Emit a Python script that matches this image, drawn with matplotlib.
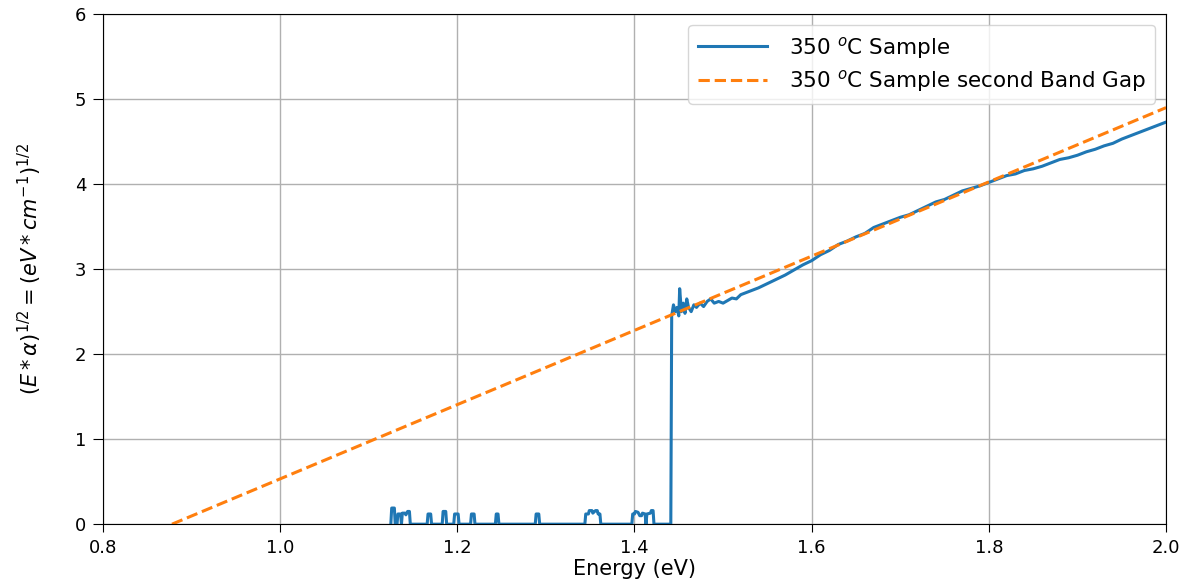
import numpy as np
import matplotlib
matplotlib.use("Agg")
from matplotlib import pyplot as plt

energy_low = [1.125, 1.126, 1.129, 1.130, 1.132, 1.133, 1.136, 1.137, 1.138, 1.141, 1.142, 1.144, 1.146, 1.147,
              1.166, 1.167, 1.170, 1.171, 1.183, 1.184, 1.187, 1.188, 1.196, 1.197, 1.201, 1.202,
              1.215, 1.216, 1.219, 1.220, 1.243, 1.244, 1.246, 1.247, 1.288, 1.289, 1.292, 1.293,
              1.344, 1.345, 1.348, 1.349, 1.352, 1.353, 1.356, 1.358, 1.359, 1.361, 1.362,
              1.397, 1.398, 1.400, 1.401, 1.404, 1.406, 1.408, 1.409, 1.412, 1.413, 1.414, 1.418,
              1.419, 1.421, 1.422, 1.441]
alpha_low = [0, 0.19, 0.19, 0, 0, 0.12, 0.12, 0, 0.13, 0.13, 0.11, 0.15, 0.15, 0,
             0, 0.12, 0.12, 0, 0, 0.15, 0.15, 0, 0, 0.12, 0.12, 0,
             0, 0.12, 0.12, 0, 0, 0.12, 0.12, 0, 0, 0.12, 0.12, 0,
             0, 0.12, 0.12, 0.16, 0.16, 0.13, 0.16, 0.16, 0.12, 0.12, 0,
             0, 0.12, 0.12, 0.15, 0.14, 0.10, 0.10, 0.13, 0.12, 0, 0.12, 0.13,
             0.16, 0.16, 0, 0]

energy_high = [1.442, 1.444, 1.446, 1.448, 1.450, 1.451, 1.453, 1.455, 1.457, 1.459, 1.461, 1.464, 1.467,
               1.470, 1.474, 1.478, 1.482, 1.486, 1.490, 1.495, 1.500, 1.505, 1.510, 1.515, 1.520,
               1.530, 1.540, 1.550, 1.560, 1.570, 1.580, 1.590, 1.600, 1.610, 1.620, 1.630, 1.640,
               1.650, 1.660, 1.670, 1.680, 1.690, 1.700, 1.710, 1.720, 1.730, 1.740, 1.750, 1.760,
               1.770, 1.780, 1.790, 1.800, 1.810, 1.820, 1.830, 1.840, 1.850, 1.860, 1.870, 1.880,
               1.890, 1.900, 1.910, 1.920, 1.930, 1.940, 1.950, 1.960, 1.970, 1.980, 1.990, 2.000]
alpha_high = [2.45, 2.58, 2.50, 2.55, 2.45, 2.77, 2.50, 2.60, 2.48, 2.65, 2.55, 2.50, 2.58,
              2.55, 2.60, 2.56, 2.62, 2.65, 2.60, 2.62, 2.60, 2.63, 2.66, 2.65, 2.70,
              2.74, 2.78, 2.83, 2.88, 2.93, 2.99, 3.05, 3.10, 3.17, 3.22, 3.29, 3.33,
              3.38, 3.42, 3.49, 3.53, 3.57, 3.61, 3.64, 3.69, 3.74, 3.79, 3.82, 3.87,
              3.92, 3.95, 3.98, 4.02, 4.06, 4.10, 4.12, 4.16, 4.18, 4.21, 4.25, 4.29,
              4.31, 4.34, 4.38, 4.41, 4.45, 4.48, 4.53, 4.57, 4.61, 4.65, 4.69, 4.73]

# orange dashed fit line (second band gap)
fit_energy = [0.878, 2.0]
fit_alpha = [0.0, 4.9]

energy = energy_low + energy_high
alpha = alpha_low + alpha_high

plt.figure(1, figsize=(11.96, 5.87), dpi=100)
ax = plt.gca()
plt.subplots_adjust(left=0.086, right=0.975, bottom=0.107, top=0.976)
plt.grid(True, color='#b0b0b0', linewidth=1.0)
plt.plot(energy, alpha, label=r'350 $^o$C Sample', color='#1f77b4', linewidth=2.2)
plt.plot(fit_energy, fit_alpha, '--', label=r'350 $^o$C Sample second Band Gap', color='#ff7f0e', linewidth=2.2)
plt.xlim(0.8, 2.0)
plt.ylim(0, 6)
plt.legend(loc='upper right', fontsize=15.5, handlelength=3.2, handletextpad=1.0,
           borderpad=0.45, labelspacing=0.35)
plt.xlabel("Energy (eV)", fontsize=15, labelpad=1)
plt.ylabel(r'$(E*\alpha)^{1/2} = (eV*cm^{-1})^{1/2}$', fontsize=15, labelpad=22)
plt.tick_params(axis='y', labelsize=13, length=7, pad=5)
plt.tick_params(axis='x', labelsize=13, length=6, pad=5)
plt.savefig("out.png", dpi=100)
plt.close()
